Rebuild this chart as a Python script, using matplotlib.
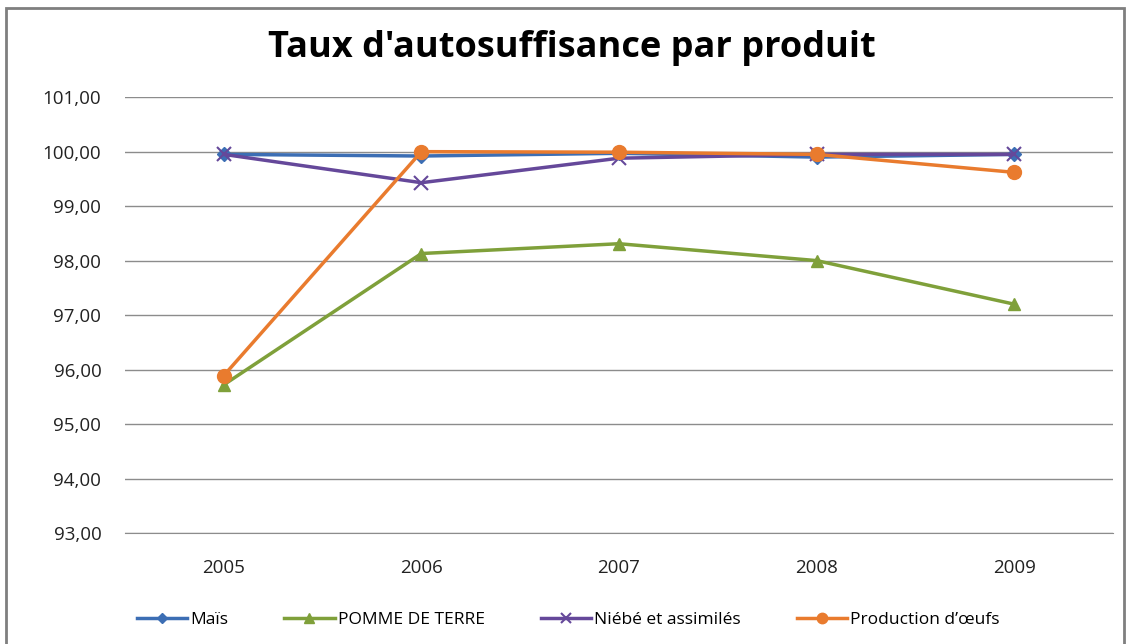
import matplotlib
matplotlib.use("Agg")
import matplotlib.pyplot as plt
from matplotlib.patches import Rectangle
from matplotlib.ticker import FuncFormatter

years = ['2005', '2006', '2007', '2008', '2009']
mais = [99.95, 99.92, 99.97, 99.90, 99.95]
pomme = [95.72, 98.13, 98.31, 98.00, 97.20]
niebe = [99.95, 99.43, 99.88, 99.95, 99.95]
oeufs = [95.89, 100.00, 99.99, 99.95, 99.62]

names = ['Maïs', 'POMME DE TERRE', 'Niébé et assimilés', 'Production d\u2019\u0153ufs']
colors = ['#3C6EB4', '#7FA03A', '#65489A', '#E97B2E']
markers = ['D', '^', 'x', 'o']
sizes = [7, 9, 10, 10]

plt.rcParams['font.family'] = ['Open Sans', 'DejaVu Sans']

fig = plt.figure(figsize=(11.3, 6.44), dpi=100)
ax = fig.add_axes([0.1106, 0.1724, 0.8744, 0.6767])

x = list(range(len(years)))
for i, y in enumerate([mais, pomme, niebe, oeufs]):
    ax.plot(x, y, color=colors[i], marker=markers[i], markersize=sizes[i],
            linewidth=2.5, label=names[i], markeredgewidth=1.5 if markers[i] == 'x' else 1,
            zorder=3 + i if i != 1 else 3)

ax.set_xlim(-0.5, 4.5)
ax.set_ylim(93, 101)
ax.set_yticks(range(93, 102))
ax.yaxis.set_major_formatter(FuncFormatter(lambda v, p: ('%.2f' % v).replace('.', ',')))
ax.set_xticks(x)
ax.set_xticklabels(years)
ax.tick_params(axis='both', length=0, labelsize=13.5, colors='#222222')
ax.tick_params(axis='x', pad=19)
ax.tick_params(axis='y', pad=17)
ax.grid(axis='y', color='#8c8c8c', linewidth=1)
ax.set_axisbelow(True)
for s in ax.spines.values():
    s.set_visible(False)
ax.spines['bottom'].set_visible(True)
ax.spines['bottom'].set_color('#8c8c8c')

fig.text(0.506, 0.925, "Taux d'autosuffisance par produit", ha='center', va='center',
         fontsize=26, fontweight='bold', color='black')

ax.legend(loc='center', bbox_to_anchor=(0.503, 0.038), bbox_transform=fig.transFigure,
          ncol=4, frameon=False, fontsize=12.5, handlelength=2.9, columnspacing=3.2,
          handletextpad=0.2, markerscale=0.75)

fig.patches.append(Rectangle((0.005, -0.01), 0.99, 0.998, transform=fig.transFigure,
                             fill=False, edgecolor='#7f7f7f', linewidth=2))

plt.savefig('out.png', dpi=100)
